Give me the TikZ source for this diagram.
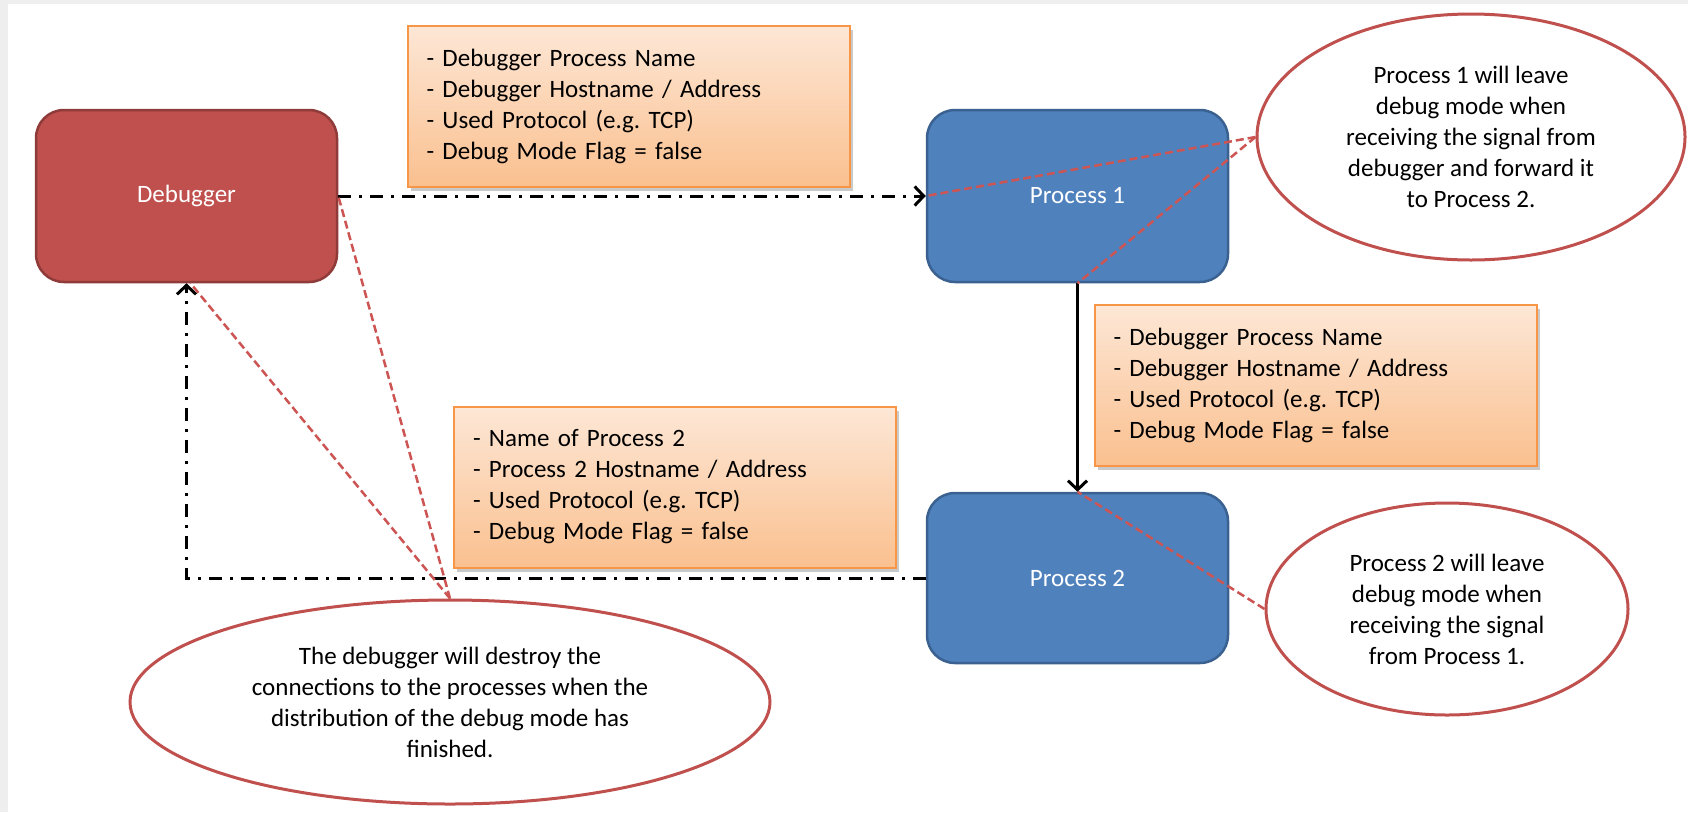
\documentclass[tikz,border=0pt]{standalone}
\usepackage{fontspec}
\setmainfont{Carlito}
\usetikzlibrary{shapes.geometric,arrows.meta,shadows}
\frenchspacing

\definecolor{dbgfill}{HTML}{C0504D}
\definecolor{dbgline}{HTML}{8E3B39}
\definecolor{procfill}{HTML}{4F81BD}
\definecolor{procline}{HTML}{3A6190}
\definecolor{notetop}{HTML}{FDE7D6}
\definecolor{notebot}{HTML}{FAC08F}
\definecolor{noteline}{HTML}{F79646}
\definecolor{calloutline}{HTML}{C0504D}
\definecolor{linkred}{HTML}{CC5452}
\definecolor{pagegray}{HTML}{EEEEEE}

\begin{document}
\begin{tikzpicture}[x=1pt,y=-1pt,
  font=\fontsize{25}{31}\selectfont,
  block/.style={rounded corners=28pt, minimum width=301pt, minimum height=172pt,
    inner sep=0pt, line width=2.5pt, text=white},
  dbgbox/.style={block, fill=dbgfill, draw=dbgline},
  procbox/.style={block, fill=procfill, draw=procline},
  note/.style={draw=noteline, line width=2pt, top color=notetop, bottom color=notebot,
    minimum width=442pt, minimum height=161pt, text width=404pt, inner xsep=19pt,
    align=left, text=black,
    drop shadow={shadow xshift=3pt, shadow yshift=-4pt, opacity=0.35, fill=black!60}},
  callout/.style={ellipse, draw=calloutline, line width=3pt, fill=white,
    inner sep=0pt, align=center, text=black},
  flow/.style={line width=3pt, dash pattern=on 13pt off 8pt on 3pt off 8pt,
    -{Straight Barb[length=9pt,width=19pt]}},
  pass/.style={line width=3pt, -{Straight Barb[length=9pt,width=19pt]}},
  hint/.style={draw=linkred, line width=2.5pt, dash pattern=on 8pt off 4pt}
]
% page background
\fill[pagegray] (0,0) rectangle (1688,812);
\fill[white] (8,4) rectangle (1688,812);
\useasboundingbox (0,0) rectangle (1688,812);

% participants
\node[dbgbox] (dbg) at (186.5,196) {Debugger};
\node[procbox] (p1) at (1077.5,196) {Process 1};
\node[procbox, minimum height=170pt] (p2) at (1077.5,578) {Process 2};

% message contents
\node[note] (na) at (628.5,106) {- Debugger Process Name\\- Debugger Hostname / Address\\- Used Protocol (e.g. TCP)\\- Debug Mode Flag = false};
\node[note] (nb) at (1315.5,385) {- Debugger Process Name\\- Debugger Hostname / Address\\- Used Protocol (e.g. TCP)\\- Debug Mode Flag = false};
\node[note] (nc) at (675,487) {- Name of Process 2\\- Process 2 Hostname / Address\\- Used Protocol (e.g. TCP)\\- Debug Mode Flag = false};

% explanations
\node[callout, minimum width=428pt, minimum height=246pt] (e1) at (1471,137)
  {Process 1 will leave\\debug mode when\\receiving the signal from\\debugger and forward it\\to Process 2.};
\node[callout, minimum width=362pt, minimum height=212pt] (e2) at (1447,609)
  {Process 2 will leave\\debug mode when\\receiving the signal\\from Process 1.};
\node[callout, minimum width=640pt, minimum height=204pt] (e3) at (450,702)
  {The debugger will destroy the\\connections to the processes when the\\distribution of the debug mode has\\finished.};

% message flow
\draw[flow] (dbg.east) -- (p1.west);
\draw[pass] (p1.south) -- (p2.north);
\draw[flow] (p2.west) -| (dbg.south);

% pointers from the explanations
\draw[hint] (e1.west) -- (p1.west);
\draw[hint] (e1.west) -- (p1.south);
\draw[hint] (e2.west) -- (p2.north);
\draw[hint] (e3.north) -- (dbg.east);
\draw[hint] (e3.north) -- ([xshift=4pt]dbg.south);
\end{tikzpicture}
\end{document}
